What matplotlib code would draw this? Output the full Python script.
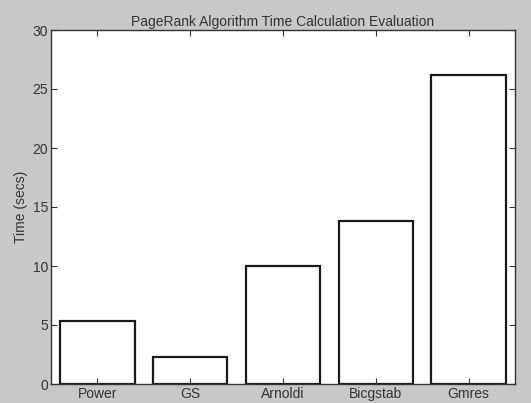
import matplotlib.pyplot as plt

methods = ["Power", "GS", "Arnoldi", "Bicgstab", "Gmres"]
times = [5.35, 2.3, 10.0, 13.8, 26.2]

plt.rcParams['font.family'] = ['Liberation Sans', 'DejaVu Sans']

fig = plt.figure(figsize=(5.31, 4.03), dpi=100, facecolor='#c8c8c8')
ax = fig.add_axes([51 / 531, 1 - 384 / 403, 464 / 531, 354 / 403])

pos = list(range(1, len(methods) + 1))
ax.bar(pos, times, width=0.8, color='white', edgecolor='#1a1a1a', linewidth=1.6)

ax.set_xlim(0.5, 5.5)
ax.set_ylim(0, 30)
ax.set_xticks(pos)
ax.set_xticklabels(methods)
ax.set_yticks(range(0, 31, 5))
ax.tick_params(direction='in', top=True, right=True, labelsize=10, colors='#333333', length=4, pad=2)
for s in ax.spines.values():
    s.set_color('#333333')
    s.set_linewidth(1.0)

ax.set_ylabel('Time (secs)', fontsize=10, color='#333333', labelpad=3)
ax.set_title('PageRank Algorithm Time Calculation Evaluation', fontsize=10, color='#333333', pad=3)

fig.savefig('out.png', dpi=100, facecolor=fig.get_facecolor())
